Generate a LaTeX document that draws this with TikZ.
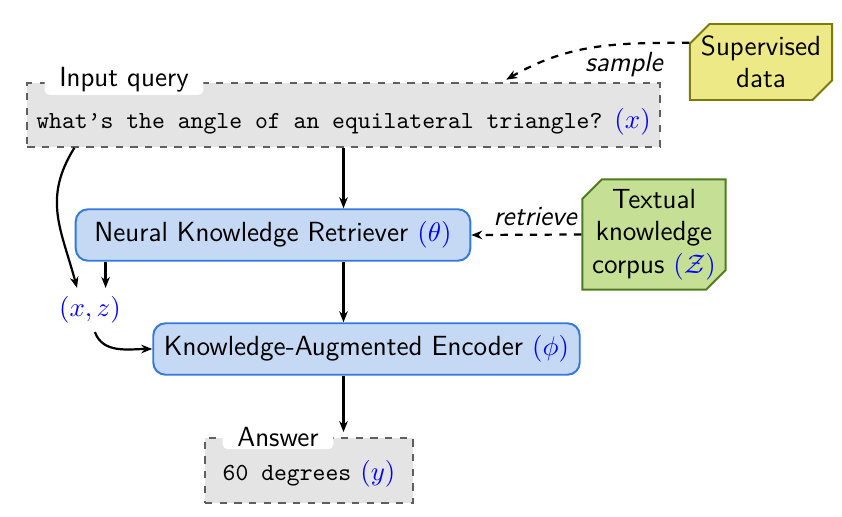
\documentclass[tikz,border=0pt]{standalone}
\usepackage{amsmath}
\usepackage{xcolor}
\usepackage{tikz}
\usetikzlibrary{shapes.misc, arrows.meta, positioning}

\definecolor{querygray}{HTML}{E4E4E4}
\definecolor{dashgray}{HTML}{5F5F5F}
\definecolor{netblue}{HTML}{C5D9F5}
\definecolor{netedge}{HTML}{3479DC}
\definecolor{datayellow}{HTML}{EDE987}
\definecolor{dataedge}{HTML}{7D7A10}
\definecolor{corpusgreen}{HTML}{C5DF94}
\definecolor{corpusedge}{HTML}{4E7B1E}

\newcommand{\var}[1]{{\color{blue}$(#1)$}}
\newcommand{\code}[1]{{\fontsize{10}{12}\ttfamily #1}}

\begin{document}
\begin{tikzpicture}[
  x=0.408pt, y=-0.408pt,
  font={\fontsize{11.3}{13.2}\selectfont},
  field/.style={rectangle, draw=dashgray, dashed, fill=querygray, thick, align=center},
  tag/.style={rectangle, fill=white, inner xsep=6pt, inner ysep=1pt,
              rounded corners=2pt, font={\fontsize{11.3}{13.2}\sffamily}},
  block/.style={rectangle, rounded corners=5pt, draw=netedge, fill=netblue,
                thick, minimum height=21pt, align=center,
                font={\fontsize{11.3}{13.2}\sffamily}},
  source/.style={chamfered rectangle, chamfered rectangle corners={north west, south east},
                 chamfered rectangle xsep=4pt, chamfered rectangle ysep=4pt,
                 thick, align=center, inner sep=0pt,
                 font={\fontsize{11.3}{13.2}\sffamily}},
  arrow/.style={-{Stealth[length=4.5pt, width=3.5pt]}, line width=0.9pt},
]
  \useasboundingbox (0,0) rectangle (842,517);

  \node[field, minimum width=258pt, minimum height=26pt, text height=13pt, text depth=2pt]
    (query) at (343.5,115)
    {\code{what’s the angle of an equilateral triangle?} \var{x}};
  \node[tag] (querytag) at (124,80) {Input query};

  \node[block, minimum width=161pt] (retriever) at (273,235)
    {Neural Knowledge Retriever \var{\theta}};
  \node[block, minimum width=174pt] (encoder) at (366.5,349)
    {Knowledge-Augmented Encoder \var{\phi}};

  \node (xz) at (90,310) {\var{x,z}};

  \node[field, minimum width=85pt, minimum height=26.5pt, text height=10.5pt, text depth=2.2pt]
    (answer) at (309,470.5) {\code{60 degrees} \var{y}};
  \node[tag] (answertag) at (278,437) {Answer};

  \node[source, draw=dataedge, fill=datayellow, minimum width=58pt, minimum height=31pt]
    (supervised) at (761,62) {Supervised\\data};
  \node[source, draw=corpusedge, fill=corpusgreen, minimum width=58pt, minimum height=44.5pt]
    (corpus) at (654,234.5) {Textual\\knowledge\\corpus \var{\mathcal{Z}}};

  \draw[arrow] (query.south) -- (query.south |- retriever.north);
  \draw[arrow] (retriever.south -| query.south) -- (encoder.north -| query.south);
  \draw[arrow, shorten >=2pt] (encoder.south -| query.south) -- (answer.north -| query.south);

  \draw[arrow, dashed] (corpus.west) -- node[above, pos=0.42, font={\fontsize{11.3}{13.2}\sffamily\itshape}] {retrieve}
    (retriever.east);
  \draw[arrow, dashed] (supervised.165) to[out=180, in=30]
    node[pos=0.33, below=-0.5pt, font={\fontsize{11.3}{13.2}\sffamily\itshape}] {sample}
    ([xshift=-63pt, yshift=1pt]query.north east);

  \draw[arrow] ([xshift=19.6pt]query.south west) to[out=238, in=105, looseness=1.1]
    ([xshift=-5.3pt]xz.north);
  \draw[arrow] ([xshift=12.6pt]retriever.south west)
    -- ([xshift=12.6pt]retriever.south west |- xz.north);
  \draw[arrow] ([xshift=2pt]xz.south) to[out=-70, in=180] (encoder.west);
\end{tikzpicture}
\end{document}
